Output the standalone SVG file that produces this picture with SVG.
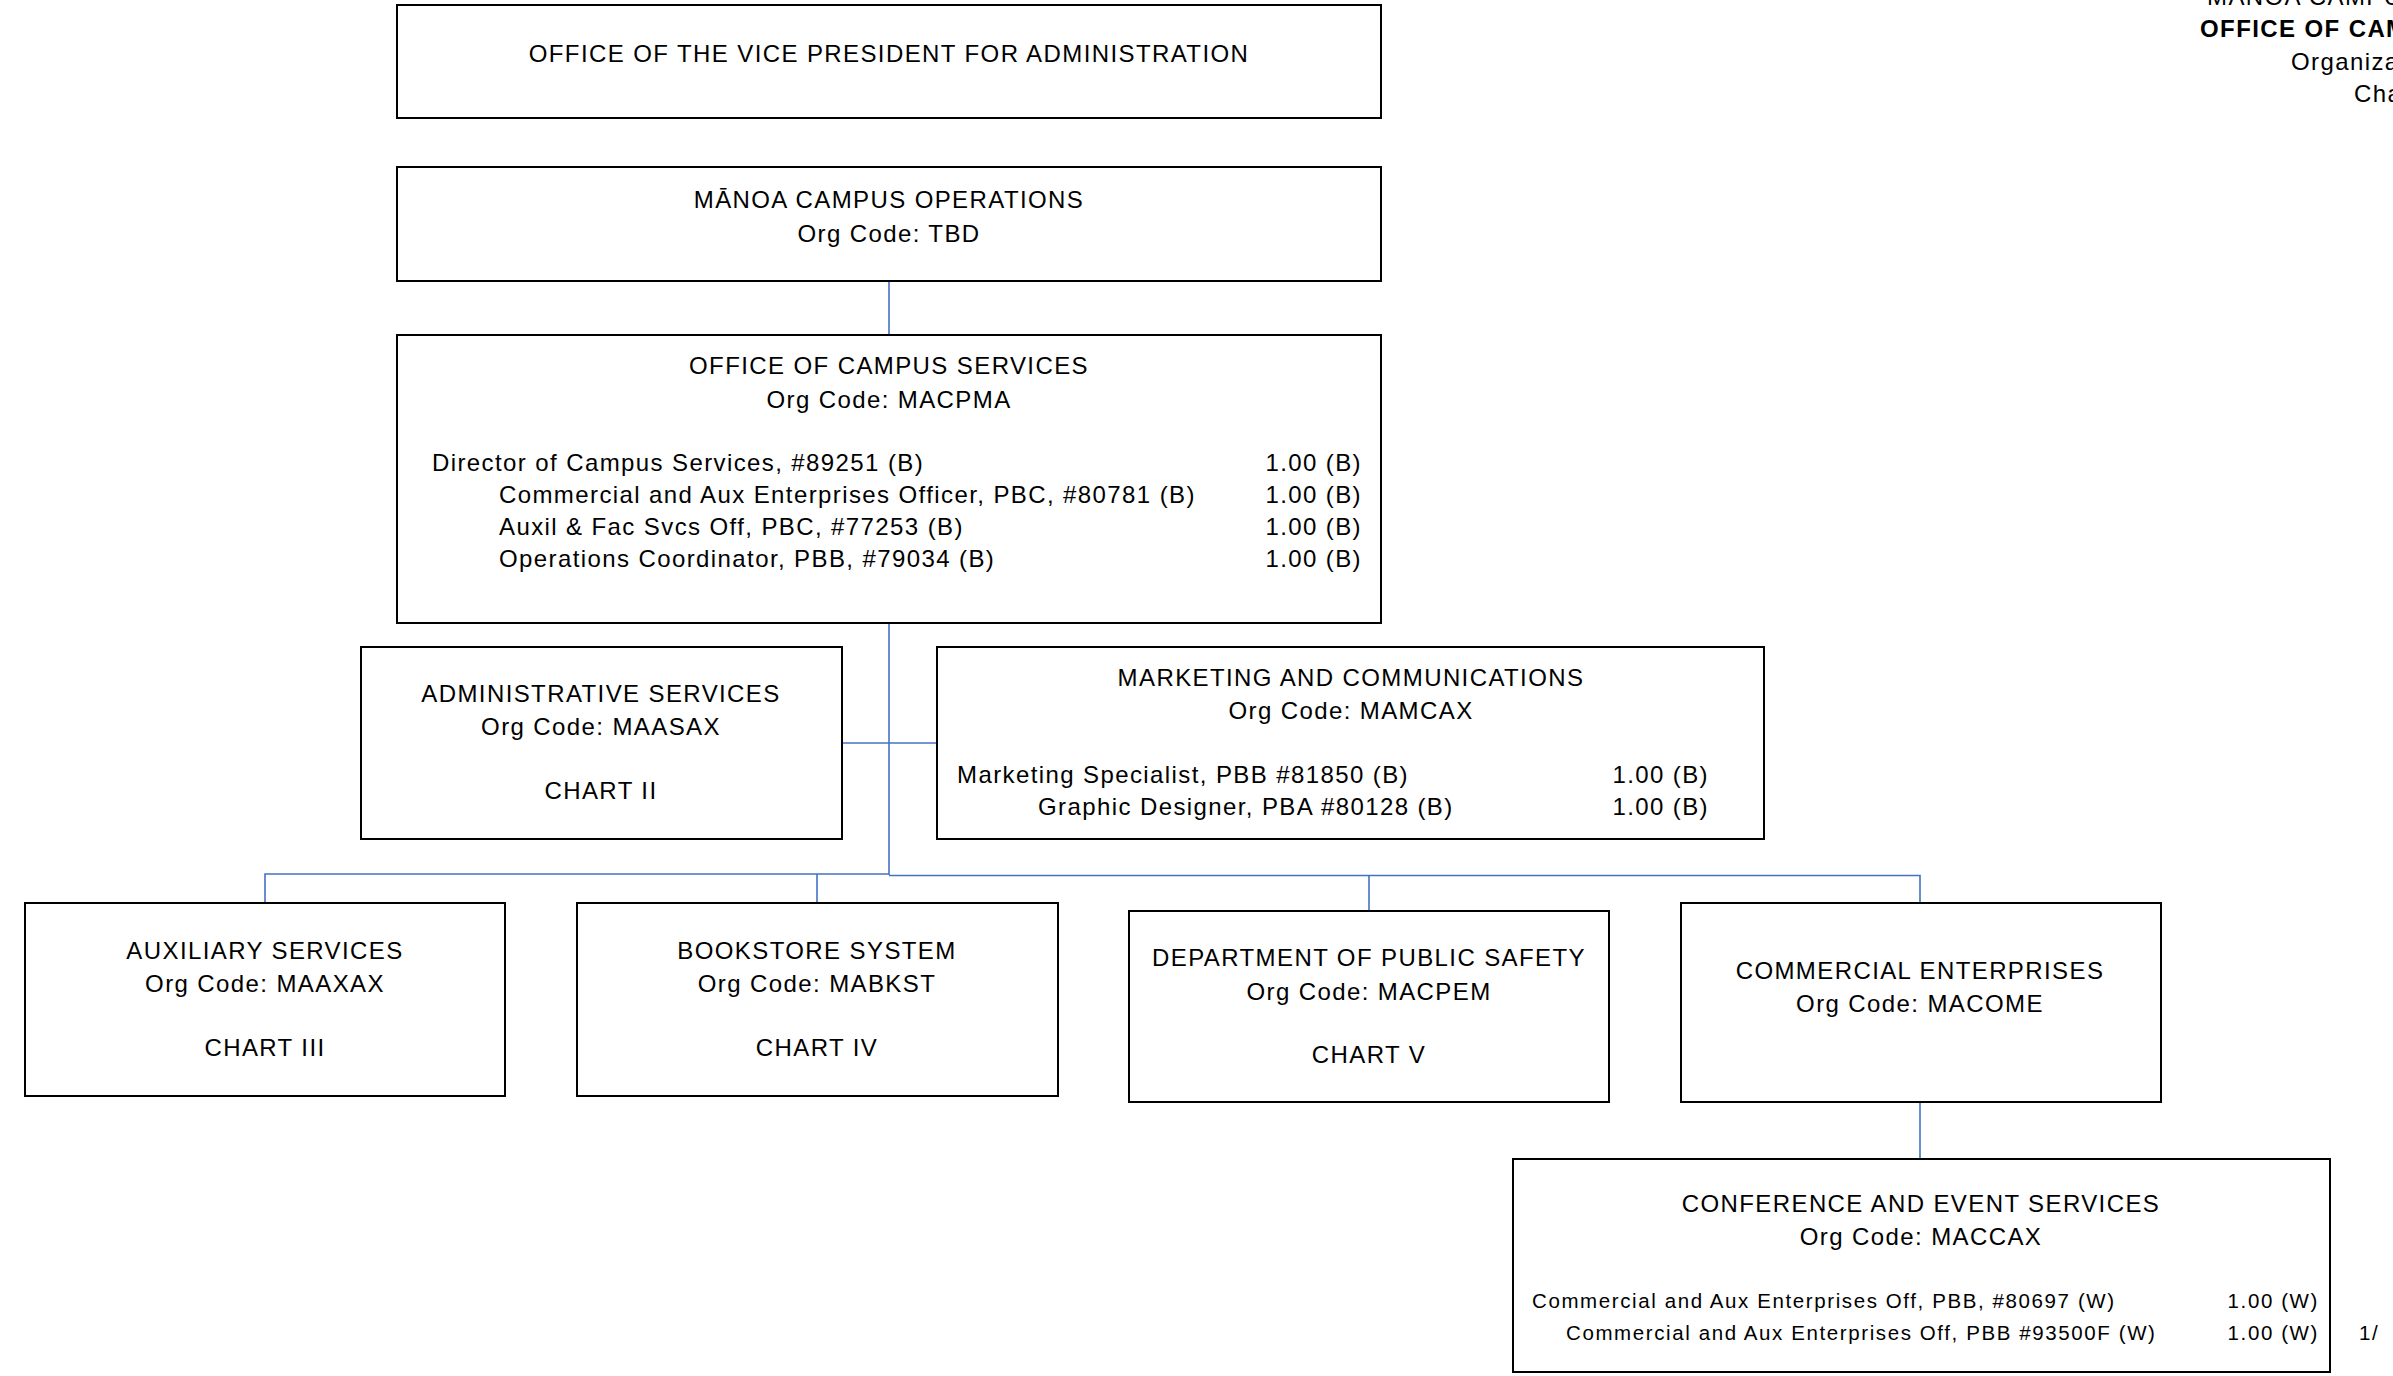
<svg xmlns="http://www.w3.org/2000/svg" width="2393" height="1376" viewBox="0 0 2393 1376">
<style>
.box{fill:#fff;stroke:#000;stroke-width:2}
.t{font-family:"Liberation Sans",Arial,sans-serif;font-size:24px;letter-spacing:1.4px;fill:#000}
.s{font-size:20.5px;letter-spacing:1.6px}
.b{font-weight:bold}
.c{text-anchor:middle}
.e{text-anchor:end}
.conn{stroke:#4472C4;stroke-width:1.6;fill:none}
</style>
<rect width="2393" height="1376" fill="#fff"/>
<g id="header">
<text class="t" x="2207" y="5">MĀNOA CAMPUS</text>
<text class="t b" x="2200" y="37">OFFICE OF CAMPUS</text>
<text class="t" x="2291" y="70">Organization</text>
<text class="t" x="2354" y="102">Chart</text>
</g>
<g id="connectors">
<line class="conn" x1="889" y1="281" x2="889" y2="335"/>
<line class="conn" x1="889" y1="623" x2="889" y2="875"/>
<line class="conn" x1="842" y1="743" x2="937" y2="743"/>
<polyline class="conn" points="265,903 265,874 889,874"/>
<line class="conn" x1="817" y1="874" x2="817" y2="903"/>
<polyline class="conn" points="889,875.5 1920,875.5 1920,903"/>
<line class="conn" x1="1369" y1="875.5" x2="1369" y2="911"/>
<line class="conn" x1="1920" y1="1102" x2="1920" y2="1159"/>
</g>
<g id="vp-admin">
<rect class="box" x="397" y="5" width="984" height="113"/>
<text class="t c" x="889" y="62">OFFICE OF THE VICE PRESIDENT FOR ADMINISTRATION</text>
</g>
<g id="manoa-campus-operations">
<rect class="box" x="397" y="167" width="984" height="114"/>
<text class="t c" x="889" y="208">MĀNOA CAMPUS OPERATIONS</text>
<text class="t c" x="889" y="242">Org Code: TBD</text>
</g>
<g id="office-campus-services">
<rect class="box" x="397" y="335" width="984" height="288"/>
<text class="t c" x="889" y="374">OFFICE OF CAMPUS SERVICES</text>
<text class="t c" x="889" y="408">Org Code: MACPMA</text>
<text class="t" x="432" y="471">Director of Campus Services, #89251 (B)</text>
<text class="t" x="499" y="503">Commercial and Aux Enterprises Officer, PBC, #80781 (B)</text>
<text class="t" x="499" y="535">Auxil &amp; Fac Svcs Off, PBC, #77253 (B)</text>
<text class="t" x="499" y="567">Operations Coordinator, PBB, #79034 (B)</text>
<text class="t e" x="1362" y="471">1.00 (B)</text>
<text class="t e" x="1362" y="503">1.00 (B)</text>
<text class="t e" x="1362" y="535">1.00 (B)</text>
<text class="t e" x="1362" y="567">1.00 (B)</text>
</g>
<g id="administrative-services">
<rect class="box" x="361" y="647" width="481" height="192"/>
<text class="t c" x="601" y="702">ADMINISTRATIVE SERVICES</text>
<text class="t c" x="601" y="735">Org Code: MAASAX</text>
<text class="t c" x="601" y="799">CHART II</text>
</g>
<g id="marketing-communications">
<rect class="box" x="937" y="647" width="827" height="192"/>
<text class="t c" x="1351" y="686">MARKETING AND COMMUNICATIONS</text>
<text class="t c" x="1351" y="719">Org Code: MAMCAX</text>
<text class="t" x="957" y="783">Marketing Specialist, PBB #81850 (B)</text>
<text class="t" x="1038" y="815">Graphic Designer, PBA #80128 (B)</text>
<text class="t e" x="1709" y="783">1.00 (B)</text>
<text class="t e" x="1709" y="815">1.00 (B)</text>
</g>
<g id="auxiliary-services">
<rect class="box" x="25" y="903" width="480" height="193"/>
<text class="t c" x="265" y="959">AUXILIARY SERVICES</text>
<text class="t c" x="265" y="992">Org Code: MAAXAX</text>
<text class="t c" x="265" y="1056">CHART III</text>
</g>
<g id="bookstore-system">
<rect class="box" x="577" y="903" width="481" height="193"/>
<text class="t c" x="817" y="959">BOOKSTORE SYSTEM</text>
<text class="t c" x="817" y="992">Org Code: MABKST</text>
<text class="t c" x="817" y="1056">CHART IV</text>
</g>
<g id="public-safety">
<rect class="box" x="1129" y="911" width="480" height="191"/>
<text class="t c" x="1369" y="966">DEPARTMENT OF PUBLIC SAFETY</text>
<text class="t c" x="1369" y="1000">Org Code: MACPEM</text>
<text class="t c" x="1369" y="1063">CHART V</text>
</g>
<g id="commercial-enterprises">
<rect class="box" x="1681" y="903" width="480" height="199"/>
<text class="t c" x="1920" y="979">COMMERCIAL ENTERPRISES</text>
<text class="t c" x="1920" y="1012">Org Code: MACOME</text>
</g>
<g id="conference-event-services">
<rect class="box" x="1513" y="1159" width="817" height="213"/>
<text class="t c" x="1921" y="1212">CONFERENCE AND EVENT SERVICES</text>
<text class="t c" x="1921" y="1245">Org Code: MACCAX</text>
<text class="t s" x="1532" y="1308">Commercial and Aux Enterprises Off, PBB, #80697 (W)</text>
<text class="t s" x="1566" y="1340">Commercial and Aux Enterprises Off, PBB #93500F (W)</text>
<text class="t s e" x="2319" y="1308">1.00 (W)</text>
<text class="t s e" x="2319" y="1340">1.00 (W)</text>
</g>
<g id="footnote">
<text class="t s" x="2359" y="1340">1/</text>
</g>
</svg>
